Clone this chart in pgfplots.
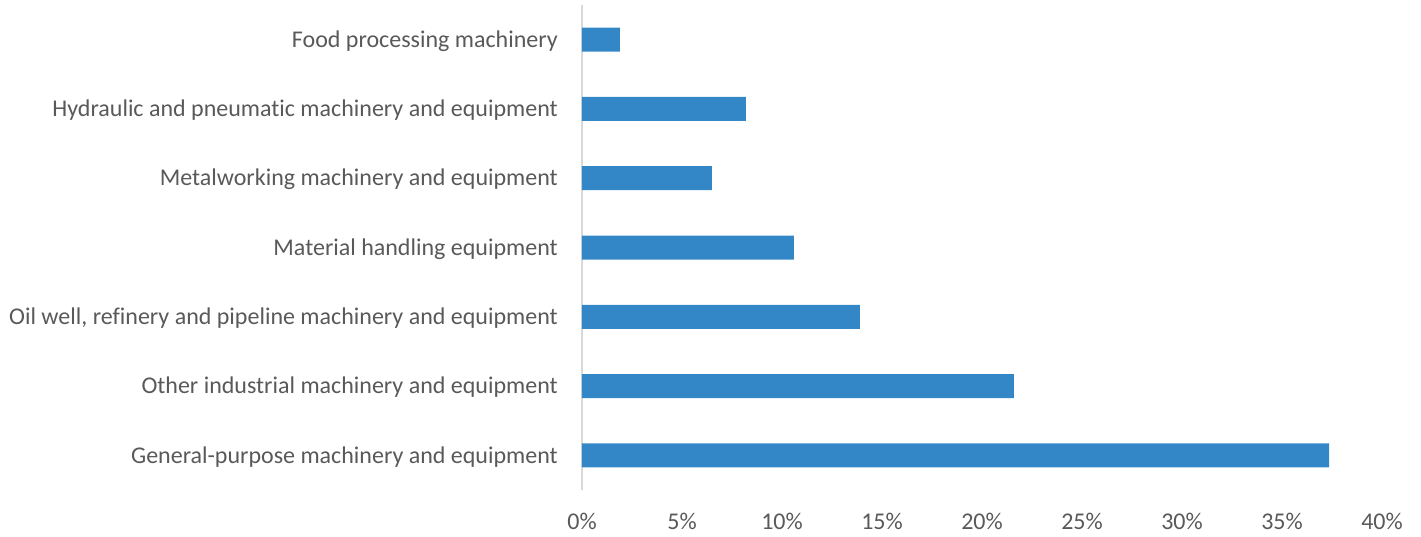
\documentclass[border=0pt]{standalone}
\usepackage{pgfplots}
\pgfplotsset{compat=1.18}
\usepackage{fontspec}
\setmainfont{Carlito}[Ligatures={NoCommon}]
\definecolor{barblue}{HTML}{3487C7}
\definecolor{txt}{HTML}{595959}
\definecolor{axgray}{HTML}{D9D9D9}
\begin{document}
\begin{tikzpicture}
\path (-582pt,-46pt) rectangle (839pt,490pt);
\begin{axis}[
  at={(0,0)}, anchor=south west,
  scale only axis, width=800pt, height=485pt,
  xbar, bar width=24pt,
  xmin=0, xmax=40, ymin=-0.5, ymax=6.5,
  axis lines=left, axis line style={-},
  x axis line style={draw=none},
  y axis line style={draw=axgray, line width=1.5pt},
  major tick length=0pt, tick style={draw=none},
  ytick={0,1,2,3,4,5,6},
  yticklabels={General-purpose machinery and equipment,
    Other industrial machinery and equipment,
    {Oil well, refinery and pipeline machinery and equipment},
    Material handling equipment,
    Metalworking machinery and equipment,
    Hydraulic and pneumatic machinery and equipment,
    Food processing machinery},
  xtick={0,5,10,15,20,25,30,35,40},
  xticklabels={0\%,5\%,10\%,15\%,20\%,25\%,30\%,35\%,40\%},
  tick label style={font=\fontsize{24}{29}\selectfont, text=txt, inner sep=0pt},
  yticklabel style={xshift=-24pt, yshift=-1.5pt},
  xticklabel style={yshift=-23pt},
]
\addplot[fill=barblue, draw=none] coordinates {
  (37.35,0) (21.6,1) (13.9,2) (10.6,3) (6.5,4) (8.2,5) (1.9,6)
};
\end{axis}
\end{tikzpicture}
\end{document}
